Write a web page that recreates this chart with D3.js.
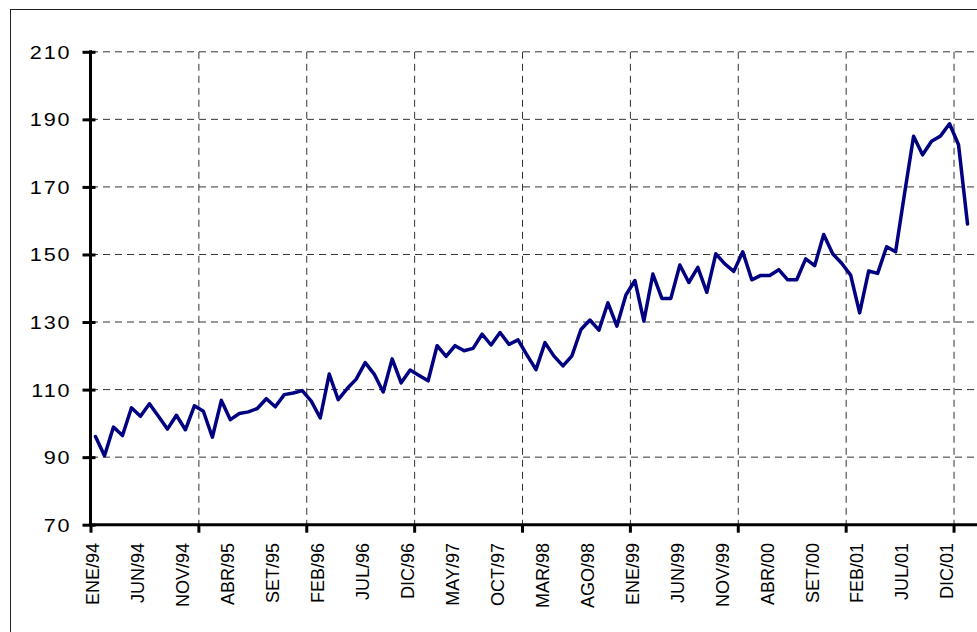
<!DOCTYPE html>
<html>
<head>
<meta charset="utf-8">
<script src="https://cdn.jsdelivr.net/npm/d3@7"></script>
<style>
  body { margin: 0; background: #fff; }
  svg { display: block; font-family: "Liberation Sans", Arial, sans-serif; }
</style>
</head>
<body>
<div id="chart"></div>
<script>
// Month names and years used to build the category axis
const meses = ["ENE", "FEB", "MAR", "ABR", "MAY", "JUN", "JUL", "AGO", "SET", "OCT", "NOV", "DIC"];
const anios = ["94", "95", "96", "97", "98", "99", "00", "01", "02"];

// Monthly index values, ENE/94 to FEB/02
const valores = [
  96.1, 90.4, 98.9, 96.4, 104.6, 102.1, 105.8, 102.1, 98.3, 102.4, 98.1, 105.2,
  103.6, 95.9, 106.8, 101.1, 102.9, 103.4, 104.4, 107.3, 104.9, 108.5, 109.0, 109.7,
  106.6, 101.6, 114.6, 107.0, 110.3, 113.1, 118.0, 114.6, 109.3, 119.1, 112.0, 115.8,
  114.2, 112.6, 123.0, 119.8, 123.0, 121.5, 122.2, 126.4, 123.2, 126.9, 123.4, 124.7,
  120.2, 115.9, 123.9, 119.9, 117.0, 120.0, 127.8, 130.6, 127.6, 135.7, 128.8, 138.0,
  142.3, 130.3, 144.2, 137.0, 137.0, 146.9, 141.7, 146.2, 138.8, 150.2, 147.2, 145.0,
  150.8, 142.5, 143.8, 143.8, 145.5, 142.5, 142.5, 148.7, 146.7, 155.9, 150.2, 147.4,
  143.9, 132.7, 145.1, 144.4, 152.3, 150.8, 168.1, 185.0, 179.5, 183.5, 185.1, 188.7,
  182.5, 159.0
];

const yTicks = [70, 90, 110, 130, 150, 170, 190, 210];

// Category list (the axis runs a little past the last data point)
const categorias = anios.flatMap(a => meses.map(m => `${m}/${a}`)).slice(0, 100);
// A label every five months, a tick / vertical gridline every twelve
const etiquetas = categorias.filter((d, i) => i % 5 === 0 && i < 96);
const cortes = categorias.filter((d, i) => i % 12 === 0);

const width = 977, height = 632;
const plotLeft = 91, plotTop = 51.8, plotBottom = 524.7;
const step = 8.99;

const svg = d3.select("#chart").append("svg")
    .attr("width", width)
    .attr("height", height);

// Outer chart frame (runs off the right and bottom edges)
svg.append("rect")
    .attr("x", 10.5).attr("y", 9.5)
    .attr("width", 1000).attr("height", 700)
    .attr("fill", "none")
    .attr("stroke", "#222")
    .attr("stroke-width", 1);

const x = d3.scaleBand()
    .domain(categorias)
    .range([plotLeft, plotLeft + categorias.length * step])
    .padding(0);

const y = d3.scaleLinear()
    .domain([70, 210])
    .range([plotBottom, plotTop]);

const cx = d => x(d) + x.bandwidth() / 2;

// Horizontal dashed gridlines
svg.append("g")
    .selectAll("line")
    .data(yTicks.filter(d => d > 70))
    .join("line")
    .attr("x1", plotLeft).attr("x2", width + 20)
    .attr("y1", d => y(d)).attr("y2", d => y(d))
    .attr("stroke", "#333")
    .attr("stroke-width", 1)
    .attr("stroke-dasharray", "7,5");

// Vertical dashed gridlines, one per year
svg.append("g")
    .selectAll("line")
    .data(cortes.slice(1))
    .join("line")
    .attr("x1", d => x(d)).attr("x2", d => x(d))
    .attr("y1", plotTop).attr("y2", plotBottom)
    .attr("stroke", "#333")
    .attr("stroke-width", 1)
    .attr("stroke-dasharray", "7,5");

// The series
const line = d3.line()
    .x((d, i) => cx(categorias[i]))
    .y(d => y(d));

svg.append("path")
    .datum(valores)
    .attr("d", line)
    .attr("fill", "none")
    .attr("stroke", "#000080")
    .attr("stroke-width", 3.5)
    .attr("stroke-linejoin", "round")
    .attr("stroke-linecap", "round");

// Y axis
const yAxis = svg.append("g")
    .attr("transform", `translate(${plotLeft - 0.5},0)`)
    .call(d3.axisLeft(y).tickValues(yTicks).tickSize(8).tickSizeOuter(0));
yAxis.select(".domain").attr("stroke", "#000").attr("stroke-width", 3)
    .attr("d", `M0,${plotBottom}V${plotTop - 1.5}`);
yAxis.selectAll(".tick line").attr("x1", 5).attr("stroke", "#000").attr("stroke-width", 3);
yAxis.selectAll(".tick text")
    .attr("x", null).attr("dy", null)
    .attr("transform", "translate(-19,6.5) scale(1.2,1)")
    .attr("fill", "#000")
    .style("letter-spacing", "1.6px")
    .style("font-size", "18px")
    .style("font-family", "'Liberation Sans', Arial, sans-serif");

// X axis line
svg.append("line")
    .attr("x1", plotLeft - 2).attr("x2", width + 20)
    .attr("y1", plotBottom).attr("y2", plotBottom)
    .attr("stroke", "#000")
    .attr("stroke-width", 3);

// X axis ticks at the year boundaries
svg.append("g")
    .selectAll("line")
    .data(cortes)
    .join("line")
    .attr("x1", d => x(d)).attr("x2", d => x(d))
    .attr("y1", plotBottom).attr("y2", plotBottom + 8)
    .attr("stroke", "#000")
    .attr("stroke-width", 3);

// Rotated month labels
svg.append("g")
    .selectAll("text")
    .data(etiquetas)
    .join("text")
    .attr("transform", d => `translate(${cx(d) - 2.5},${543}) rotate(-90)`)
    .attr("text-anchor", "end")
    .attr("dy", "0.35em")
    .attr("fill", "#000")
    .style("font-size", "18px")
    .text(d => d);
</script>
</body>
</html>
